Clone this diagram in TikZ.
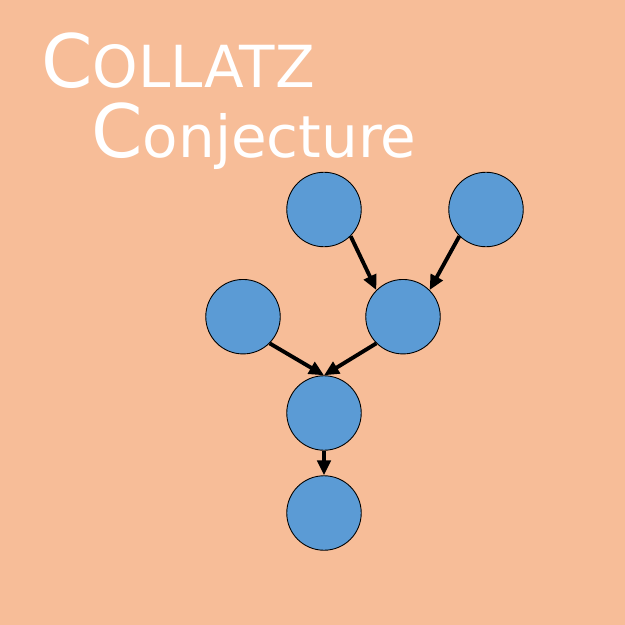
\documentclass[tikz,border=0pt]{standalone}
\usepackage{fontspec}
\setmainfont{DejaVu Sans}
\usetikzlibrary{arrows.meta}
\definecolor{bgorange}{HTML}{F7BD98}
\definecolor{nodeblue}{HTML}{5B9BD5}

\begin{document}
\begin{tikzpicture}[x=0.02cm, y=-0.02cm,
        dot/.style={circle, draw=black, fill=nodeblue, line width=0.5pt, minimum size=1.49cm, inner sep=0pt},
        link/.style={-{Triangle[length=8.5pt, width=7.5pt]}, line width=2.2pt},
        title/.style={anchor=base west, inner sep=0pt, text=white}]
        \fill[bgorange] (0, 0) rectangle (625, 625);
        \node[title] (line1) at (41, 88) {\fontsize{42}{42}\selectfont C\fontsize{33}{33}\selectfont OLLATZ};
        \node[title] (line2) at (91, 157) {\fontsize{42}{42}\selectfont C\fontsize{33}{33}\selectfont onjecture};
        \node[dot] (tl) at (324, 209.5) {};
        \node[dot] (tr) at (486, 209.5) {};
        \node[dot] (ml) at (243, 316.7) {};
        \node[dot] (mr) at (403, 316.7) {};
        \node[dot] (mid) at (324, 413) {};
        \node[dot] (bot) at (324, 513) {};
        \draw[link] (tl.south east) -- (mr.north west);
        \draw[link] (tr.south west) -- (mr.north east);
        \draw[link] (ml.south east) -- (mid.north);
        \draw[link] (mr.south west) -- (mid.north);
        \draw[link] (mid.south) -- (bot.north);
    \end{tikzpicture}
\end{document}
